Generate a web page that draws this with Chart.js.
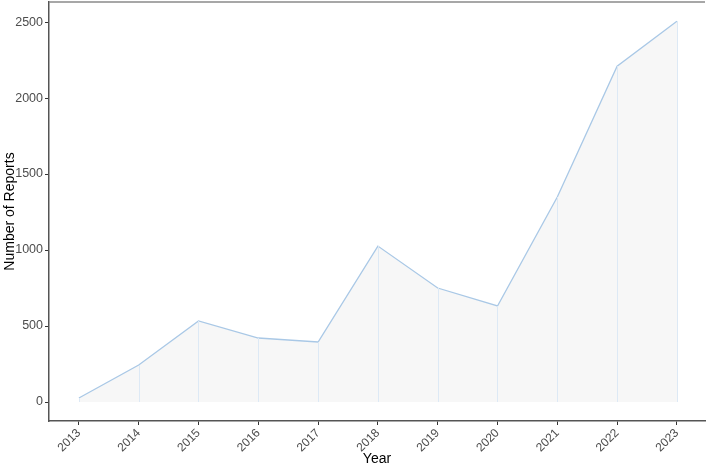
<!DOCTYPE html>
<html>
<head>
<meta charset="utf-8">
<script src="https://cdn.jsdelivr.net/npm/chart.js@4"></script>
<style>
  html, body { margin: 0; padding: 0; background: #fff; }
  #wrap { width: 706px; height: 468px; }
</style>
</head>
<body>
<div id="wrap"><canvas id="chart" width="706" height="468"></canvas></div>
<script>
// data
const years = [2013, 2014, 2015, 2016, 2017, 2018, 2019, 2020, 2021, 2022, 2023];
const reports = [26, 243, 533, 421, 395, 1026, 750, 632, 1349, 2210, 2506];
const yTicks = [0, 500, 1000, 1500, 2000, 2500];

const points = years.map(function(y, i) { return { x: y, y: reports[i] }; });

// thin light lines from each point down to zero, plus the top border of the panel
const dropLines = {
  id: 'dropLines',
  afterDatasetsDraw: function(chart) {
    const ctx = chart.ctx;
    const xs = chart.scales.x, ys = chart.scales.y;
    ctx.save();
    ctx.strokeStyle = '#dde9f5';
    ctx.lineWidth = 1;
    for (var i = 0; i < years.length; i++) {
      const px = Math.round(xs.getPixelForValue(years[i])) + 0.5;
      ctx.beginPath();
      ctx.moveTo(px, ys.getPixelForValue(reports[i]));
      ctx.lineTo(px, ys.getPixelForValue(0));
      ctx.stroke();
    }
    const a = chart.chartArea;
    ctx.strokeStyle = '#8a8a8a';
    ctx.lineWidth = 1.5;
    ctx.beginPath();
    ctx.moveTo(a.left, a.top);
    ctx.lineTo(a.right, a.top);
    ctx.stroke();
    ctx.restore();
  }
};

new Chart(document.getElementById('chart'), {
  type: 'line',
  data: {
    datasets: [{
      data: points,
      borderColor: '#a9c8e6',
      borderWidth: 1.3,
      backgroundColor: '#f7f7f7',
      fill: 'origin',
      pointRadius: 0,
      tension: 0
    }]
  },
  plugins: [dropLines],
  options: {
    responsive: false,
    animation: false,
    layout: { padding: { top: 2, right: 1, left: 0, bottom: 0 } },
    plugins: { legend: { display: false }, tooltip: { enabled: false } },
    scales: {
      x: {
        type: 'linear',
        min: 2012.5,
        max: 2023.47,
        afterBuildTicks: function(scale) {
          scale.ticks = years.map(function(v) { return { value: v }; });
        },
        afterFit: function(scale) { scale.height = 47; scale.paddingLeft = 0; scale.paddingRight = 0; },
        ticks: {
          minRotation: 45,
          maxRotation: 45,
          autoSkip: false,
          padding: 1,
          color: '#4d4d4d',
          font: { family: 'Liberation Sans', size: 12 },
          callback: function(v) { return String(v); }
        },
        grid: { drawOnChartArea: false, drawTicks: true, tickLength: 4, color: '#333' },
        border: { color: '#555', width: 1.5 },
        title: {
          display: true,
          text: 'Year',
          color: '#000',
          font: { family: 'Liberation Sans', size: 14 },
          padding: { top: 0, bottom: 0 }
        }
      },
      y: {
        min: -125,
        max: 2632,
        afterBuildTicks: function(scale) {
          scale.ticks = yTicks.map(function(v) { return { value: v }; });
        },
        afterFit: function(scale) { scale.width = 49; scale.paddingTop = 0; scale.paddingBottom = 0; },
        ticks: {
          padding: 2,
          color: '#4d4d4d',
          font: { family: 'Liberation Sans', size: 12.5 },
          callback: function(v) { return String(v); }
        },
        grid: { drawOnChartArea: false, drawTicks: true, tickLength: 4, color: '#333' },
        border: { color: '#555', width: 1.5 },
        title: {
          display: true,
          text: 'Number of Reports',
          color: '#000',
          font: { family: 'Liberation Sans', size: 14 },
          padding: { top: 2, bottom: 0 }
        }
      }
    }
  }
});
</script>
</body>
</html>
